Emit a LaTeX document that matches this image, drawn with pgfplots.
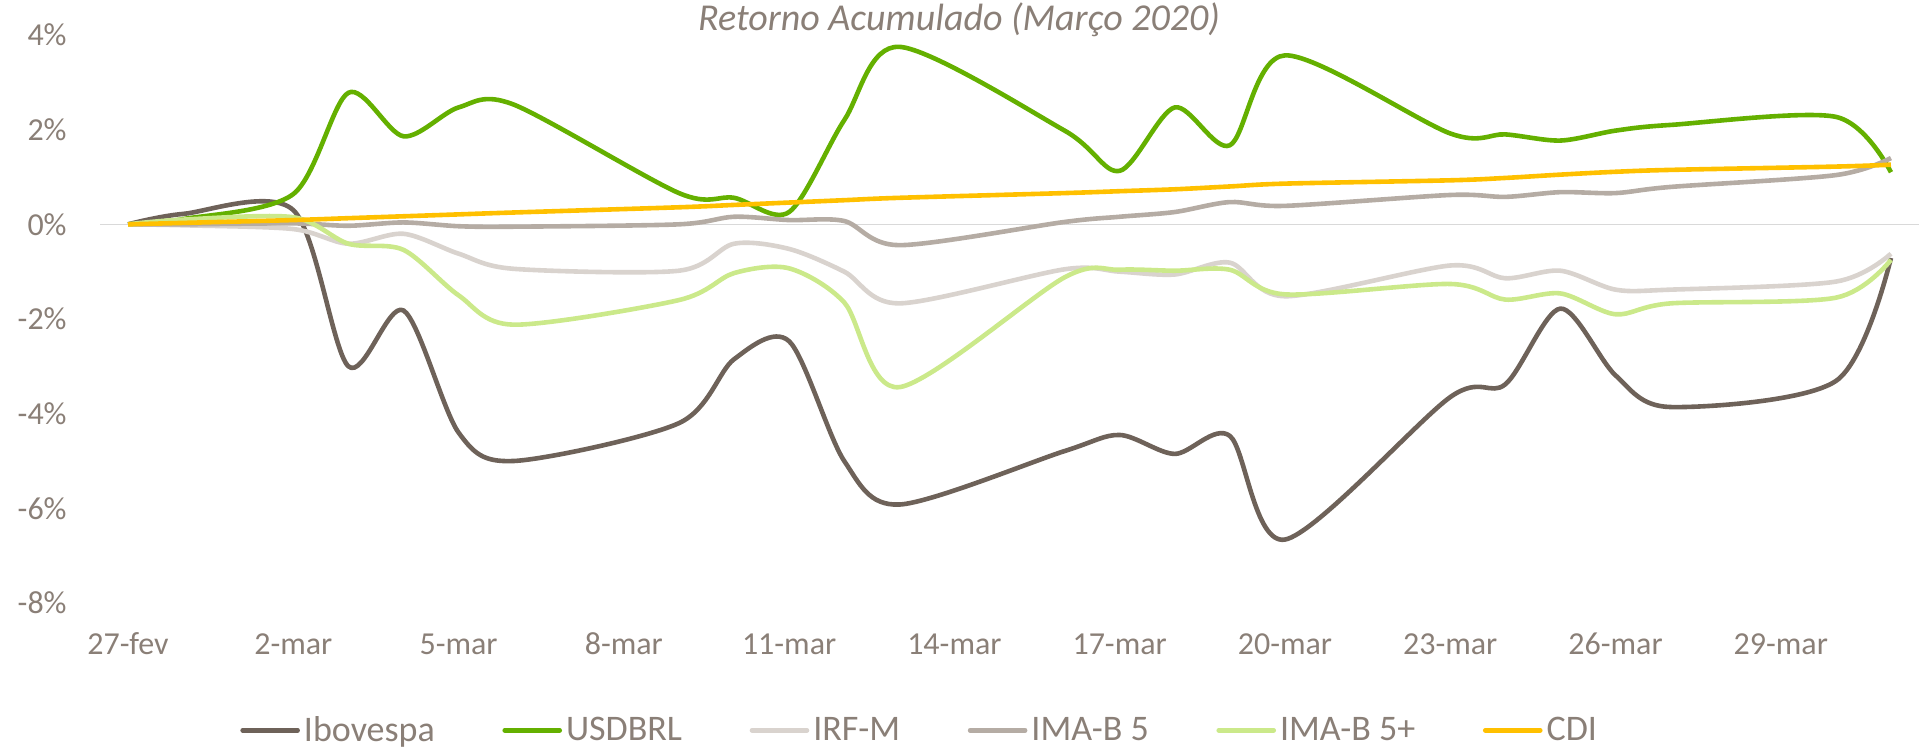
\documentclass[border=0pt]{standalone}
\usepackage{fontspec}
\setmainfont{Carlito}
\usepackage{pgfplots}
\usepackage{pgfplotstable}
\pgfplotsset{compat=1.18}
\definecolor{txt}{HTML}{8A7F77}
\definecolor{cibov}{HTML}{6E6259}
\definecolor{cusd}{HTML}{64B000}
\definecolor{cirfm}{HTML}{D9D3CE}
\definecolor{cimab}{HTML}{B5ACA4}
\definecolor{cimabp}{HTML}{CBE98A}
\definecolor{ccdi}{HTML}{FFC000}
\definecolor{zero}{HTML}{D9D9D9}

\pgfplotstableread{
d  ibov   usd   irfm   imab   imabp  cdi
0  0.00   0.00  0.00   0.00   0.00   0.00
1  0.22   0.11  -0.02  0.00   0.10   0.03
3  0.30   0.64  -0.10  0.02   0.15   0.09
4  -3.00  2.78  -0.41  -0.03  -0.41  0.13
5  -1.82  1.86  -0.20  0.04   -0.54  0.17
6  -4.40  2.47  -0.62  -0.04  -1.50  0.21
7  -5.00  2.53  -0.94  -0.05  -2.12  0.25
10 -4.20  0.66  -0.98  0.00   -1.60  0.36
11 -2.85  0.56  -0.41  0.16   -1.03  0.41
12 -2.47  0.26  -0.52  0.09   -0.93  0.46
13 -5.00  2.20  -1.00  0.07   -1.65  0.51
14 -5.92  3.75  -1.67  -0.44  -3.44  0.56
17 -4.79  1.98  -0.95  0.05   -1.12  0.66
18 -4.45  1.13  -1.00  0.16   -0.96  0.70
19 -4.85  2.47  -1.06  0.26   -0.98  0.74
20 -4.47  1.67  -0.81  0.47   -0.96  0.80
21 -6.66  3.57  -1.52  0.39   -1.48  0.86
24 -3.65  1.92  -0.87  0.62   -1.26  0.93
25 -3.38  1.90  -1.14  0.58   -1.59  0.98
26 -1.78  1.77  -0.98  0.68   -1.46  1.05
27 -3.19  1.98  -1.38  0.66   -1.90  1.11
28 -3.86  2.10  -1.38  0.79   -1.67  1.15
31 -3.31  2.27  -1.21  1.04   -1.55  1.22
32 -0.71  1.10  -0.62  1.40   -0.75  1.26
}\data

\begin{document}
\begin{tikzpicture}
\begin{axis}[
  scale only axis, width=909pt, height=284pt,
  xmin=-0.5, xmax=32.5, ymin=-8, ymax=4,
  axis line style={draw=none},
  tick style={draw=none},
  xtick={0,3,...,30},
  xticklabels={27-fev,2-mar,5-mar,8-mar,11-mar,14-mar,17-mar,20-mar,23-mar,26-mar,29-mar},
  ytick={-8,-6,...,4},
  yticklabels={-8\%,-6\%,-4\%,-2\%,0\%,2\%,4\%},
  ticklabel style={font=\fontsize{16}{19}\selectfont, text=txt},
  xticklabel style={anchor=base, yshift=-26pt},
  yticklabel style={anchor=east, inner sep=0pt, xshift=-16.75pt},
  extra y ticks={0}, extra y tick labels={},
  extra y tick style={ymajorgrids=true, major grid style={draw=zero, line width=0.8pt}},
  legend columns=6,
  legend style={at={(0.0767,-0.224)}, anchor=west, draw=none, fill=none,
    font=\fontsize{18}{21}\selectfont, text=txt, inner sep=0pt,
    /tikz/every even column/.append style={column sep=31.8pt}},
  legend cell align=left,
  legend image code/.code={\draw[#1, line cap=round] (0pt,0pt) -- (27.5pt,0pt);},
  every axis plot/.append style={line width=2.3pt, smooth, line join=round, no markers},
]
\addplot[cibov] table[x=d, y=ibov] {\data};
\addlegendentry{Ibovespa}
\addplot[cusd] table[x=d, y=usd] {\data};
\addlegendentry{USDBRL}
\addplot[cirfm] table[x=d, y=irfm] {\data};
\addlegendentry{IRF-M}
\addplot[cimab] table[x=d, y=imab] {\data};
\addlegendentry{IMA-B 5}
\addplot[cimabp] table[x=d, y=imabp] {\data};
\addlegendentry{IMA-B 5+}
\addplot[ccdi] table[x=d, y=cdi] {\data};
\addlegendentry{CDI}
\end{axis}
\node[anchor=base, font=\fontsize{19}{23}\selectfont\itshape, text=txt] at (429.25pt,286pt) {Retorno Acumulado (Março 2020)};
\pgfresetboundingbox
\useasboundingbox (-50.25pt,-75pt) rectangle (915.75pt,301.5pt);
\end{tikzpicture}
\end{document}
